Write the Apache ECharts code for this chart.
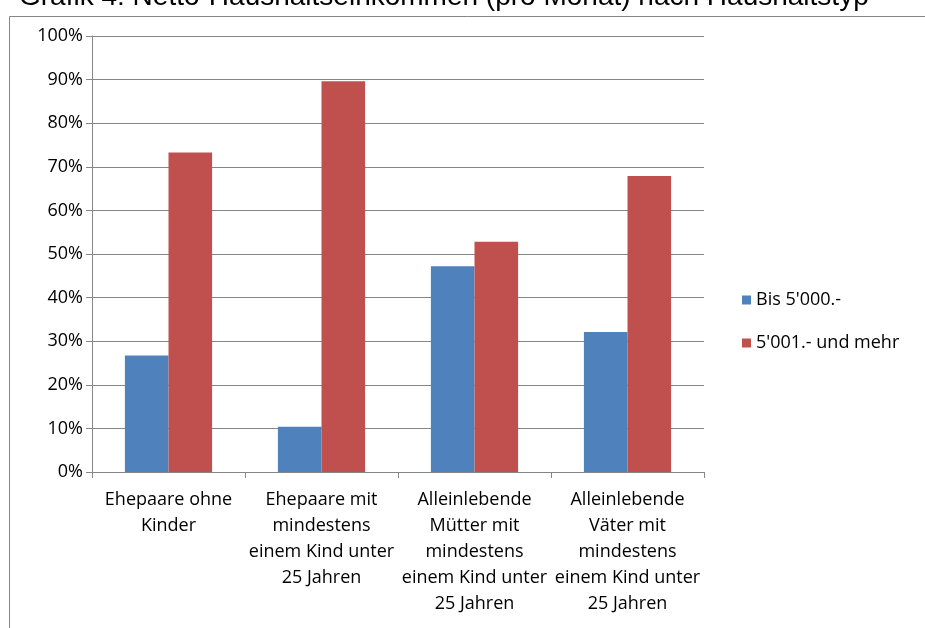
<!DOCTYPE html>
<html>
<head>
<meta charset="utf-8">
<script src="https://cdn.jsdelivr.net/npm/echarts@6/dist/echarts.min.js"></script>
<style>
html,body{margin:0;padding:0;background:#fff;}
#chart{width:925px;height:628px;}
</style>
</head>
<body>
<div id="chart"></div>
<script>
var titleText = "Grafik 4: Netto-Haushaltseinkommen (pro Monat) nach Haushaltstyp";
var categories = [
  "Ehepaare ohne\nKinder",
  "Ehepaare mit\nmindestens\neinem Kind unter\n25 Jahren",
  "Alleinlebende\nMütter mit\nmindestens\neinem Kind unter\n25 Jahren",
  "Alleinlebende\nVäter mit\nmindestens\neinem Kind unter\n25 Jahren"
];
var seriesNames = ["Bis 5'000.-", "5'001.- und mehr"];
var bis5000 = [26.7, 10.4, 47.2, 32.1];
var ab5001 = [73.3, 89.6, 52.8, 67.9];
var yTicks = [0, 10, 20, 30, 40, 50, 60, 70, 80, 90, 100];

var font = "'Open Sans', sans-serif";
var gray = "#868686";
var chart = echarts.init(document.getElementById('chart'), null, {renderer: 'canvas'});
chart.setOption({
  backgroundColor: '#ffffff',
  animation: false,
  graphic: [
    {type: 'rect', shape: {x: 9.5, y: 16.5, width: 1000, height: 700}, style: {fill: 'none', stroke: gray, lineWidth: 1}, z: 0},
    {type: 'text', x: 19, y: -17, style: {text: titleText, font: "28px 'Liberation Sans', Arial, sans-serif", fill: '#000'}, z: 10}
  ],
  grid: {left: 92, right: 221, top: 36, bottom: 156, containLabel: false},
  legend: {
    orient: 'vertical', left: 737, top: 286,
    itemWidth: 9, itemHeight: 9, itemGap: 25,
    icon: 'rect',
    textStyle: {fontFamily: font, fontSize: 18, color: '#000', padding: [0, 0, 0, 0]},
    data: seriesNames
  },
  xAxis: {
    type: 'category', data: categories,
    axisLine: {lineStyle: {color: gray, width: 1}},
    axisTick: {show: true, length: 6, lineStyle: {color: gray}, alignWithLabel: false},
    axisLabel: {interval: 0, fontFamily: font, fontSize: 18, color: '#000', lineHeight: 26, margin: 15, align: 'center'}
  },
  yAxis: {
    type: 'value', min: 0, max: 100, interval: 10,
    axisLine: {show: true, lineStyle: {color: gray, width: 1}},
    axisTick: {show: true, length: 6, lineStyle: {color: gray}},
    splitLine: {show: true, lineStyle: {color: gray, width: 1}},
    axisLabel: {fontFamily: font, fontSize: 18, color: '#000', margin: 9,
      formatter: function (v) { return yTicks.indexOf(v) >= 0 ? v + '%' : ''; }}
  },
  series: [
    {name: seriesNames[0], type: 'bar', data: bis5000, barGap: '0%', barCategoryGap: '43%',
     itemStyle: {color: '#4F81BD'}},
    {name: seriesNames[1], type: 'bar', data: ab5001, barGap: '0%', barCategoryGap: '43%',
     itemStyle: {color: '#C0504D'}}
  ]
});
</script>
</body>
</html>
